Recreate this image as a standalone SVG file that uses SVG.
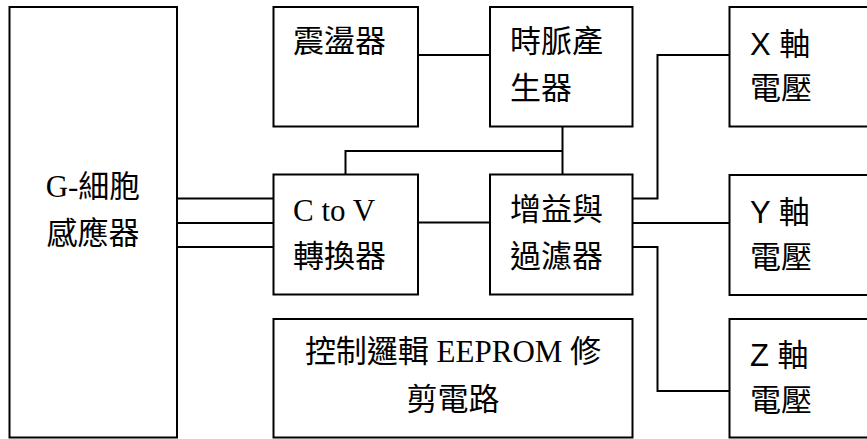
<svg xmlns="http://www.w3.org/2000/svg" width="867" height="439" viewBox="0 0 867 439">
<style>
.box{fill:#fff;stroke:#000;stroke-width:2}
.ln{fill:none;stroke:#000;stroke-width:2}
.t{font-family:"Liberation Serif","Noto Sans CJK TC",serif;font-size:31px;fill:#000}
.s{font-family:"Liberation Sans","Noto Sans CJK TC",sans-serif;font-size:31px;fill:#000}
.c{text-anchor:middle}
</style>
<g id="connectors">
<path class="ln" d="M418 55H490"/>
<path class="ln" d="M562.5 126.5V174.5M345.5 174.5V151H562.5"/>
<path class="ln" d="M177 198.5H273.5M177 223H273.5M177 247H273.5"/>
<path class="ln" d="M418 222.5H490"/>
<path class="ln" d="M632.5 198.5H657.5V55H729.5"/>
<path class="ln" d="M632.5 223H729.5"/>
<path class="ln" d="M632.5 247H657.5V391H729.5"/>
</g>
<g id="gsensor"><rect class="box" x="9.5" y="7" width="167.5" height="430.5"/>
<text class="t c" x="93" y="197">G-細胞</text><text class="t c" x="93" y="244">感應器</text></g>
<g id="osc"><rect class="box" x="273.5" y="7" width="144.5" height="119.5"/>
<text class="t" x="293" y="52">震盪器</text></g>
<g id="clock"><rect class="box" x="490" y="7" width="142.5" height="119.5"/>
<text class="t" x="510" y="52">時脈產</text><text class="t" x="510" y="99">生器</text></g>
<g id="ctov"><rect class="box" x="273.5" y="174.5" width="144.5" height="120"/>
<text class="t" x="293" y="221">C to V</text><text class="t" x="293" y="267">轉換器</text></g>
<g id="gain"><rect class="box" x="490" y="174.5" width="142.5" height="120"/>
<text class="t" x="510" y="220">增益與</text><text class="t" x="510" y="267">過濾器</text></g>
<g id="control"><rect class="box" x="273.5" y="319" width="359" height="118.5"/>
<text class="t c" x="453" y="362">控制邏輯 EEPROM 修</text><text class="t c" x="453" y="410">剪電路</text></g>
<g id="xaxis"><rect class="box" x="729.5" y="7" width="145" height="119.5"/>
<text class="s" x="750" y="55">X 軸</text><text class="t" x="750" y="99">電壓</text></g>
<g id="yaxis"><rect class="box" x="729.5" y="175" width="145" height="120"/>
<text class="s" x="750" y="223">Y 軸</text><text class="t" x="750" y="268">電壓</text></g>
<g id="zaxis"><rect class="box" x="729.5" y="319" width="145" height="118.5"/>
<text class="s" x="750" y="366">Z 軸</text><text class="t" x="750" y="411">電壓</text></g>
</svg>
